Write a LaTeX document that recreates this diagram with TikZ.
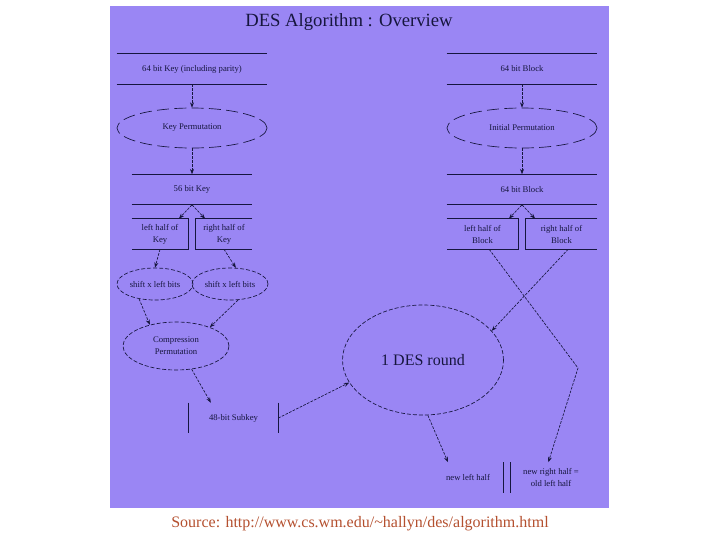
\documentclass[tikz,border=0pt]{standalone}
\usepackage{fontspec}
\setmainfont{Liberation Serif}
\usepackage{xcolor}
\usetikzlibrary{shapes.geometric,arrows.meta}
\definecolor{bgpurple}{HTML}{9A86F4}
\definecolor{ink}{HTML}{16163E}
\definecolor{srcred}{HTML}{B4502F}

\begin{document}
\begin{tikzpicture}[x=0.75pt,y=-0.75pt,>={Stealth[length=4pt,width=3pt]},
  every node/.style={font=\fontsize{6.5}{9}\selectfont,text=ink,align=center},
  rec/.style={inner sep=0pt,minimum width=112.5pt,minimum height=22.5pt},
  half/.style={inner sep=0pt,minimum width=#1,minimum height=22.5pt},
  perm/.style={ellipse,draw=ink,line width=0.5pt,inner sep=0pt,dash pattern=on 3pt off 1.5pt},
  flow/.style={->,draw=ink,line width=0.5pt,dash pattern=on 2pt off 1pt}]
  \useasboundingbox (0,0) rectangle (720,540);
  \fill[bgpurple] (110,6) rectangle (609,508);
  \node[font=\fontsize{14}{16}\selectfont] (title) at (349,22) {DES Algorithm : Overview};

  \node[rec] (key64) at (192,69) {64 bit Key (including parity)};
  \node[perm,minimum width=112.5pt,minimum height=30pt,dash pattern=on 9pt off 4pt] (keyperm) at (192,128) {Key Permutation};
  \node[rec,minimum width=90pt] (key56) at (192,189.5) {56 bit Key};
  \node[half=42pt] (lkey) at (160,234) {left half of\\Key};
  \node[half=42pt] (rkey) at (224,234) {right half of\\Key};
  \node[perm,minimum width=57pt,minimum height=24pt] (lshift) at (155,284) {shift x left bits};
  \node[perm,minimum width=57pt,minimum height=24pt] (rshift) at (230,284) {shift x left bits};
  \node[perm,minimum width=79.5pt,minimum height=36pt] (comp) at (176,346) {Compression\\Permutation};
  \node[half=66.75pt] (subkey) at (233.5,418) {48-bit Subkey};

  \node[rec] (block64) at (522,69) {64 bit Block};
  \node[perm,minimum width=112.5pt,minimum height=30pt,dash pattern=on 9pt off 4pt] (initperm) at (522,128) {Initial Permutation};
  \node[rec] (block64b) at (522,189.5) {64 bit Block};
  \node[half=53.25pt] (lblock) at (482.5,234) {left half of\\Block};
  \node[half=53.25pt] (rblock) at (561.5,234) {right half of\\Block};

  \node[perm,minimum width=120.75pt,minimum height=82.5pt,font=\fontsize{12}{14}\selectfont] (round) at (423,360) {1 DES round};
  \node[half=52.5pt] (newl) at (468,477.5) {new left half};
  \node[half=60pt] (newr) at (551,477.5) {new right half =\\old left half};

  \node[text=srcred,font=\fontsize{12}{14}\selectfont] (source) at (360,524) {Source: http://www.cs.wm.edu/\textasciitilde hallyn/des/algorithm.html};

  \begin{scope}[draw=ink,line width=0.6pt]
    \foreach \n in {key64,key56,block64,block64b}{
      \draw (\n.north west) -- (\n.north east) (\n.south west) -- (\n.south east);
    }
    \foreach \n in {lkey,lblock}{
      \draw (\n.north west) -- (\n.north east) -- (\n.south east) -- (\n.south west);
    }
    \foreach \n in {rkey,rblock}{
      \draw (\n.north east) -- (\n.north west) -- (\n.south west) -- (\n.south east);
    }
    \draw (subkey.north west) -- (subkey.south west) (subkey.north east) -- (subkey.south east);
    \draw (newl.north east) -- (newl.south east) (newr.north west) -- (newr.south west);
  \end{scope}

  \coordinate (bend) at (578,368);
  \draw[flow] (key64.south) -- (keyperm.north);
  \draw[flow] (keyperm.south) -- (key56.north);
  \draw[flow] (key56.south) -- ([xshift=-7pt]lkey.north east);
  \draw[flow] (key56.south) -- ([xshift=7pt]rkey.north west);
  \draw[flow] (lkey.south) -- (lshift.north);
  \draw[flow] (rkey.south) -- (rshift.70);
  \draw[flow] (lshift.223) -- (comp.141);
  \draw[flow] (rshift.297) -- (comp.29);
  \draw[flow] (comp.304) -- ([xshift=-17pt]subkey.north);
  \draw[flow] (subkey.east) -- (round.197);
  \draw[flow] (block64.south) -- (initperm.north);
  \draw[flow] (initperm.south) -- (block64b.north);
  \draw[flow] (block64b.south) -- ([xshift=-7pt]lblock.north east);
  \draw[flow] (block64b.south) -- ([xshift=7pt]rblock.north west);
  \draw[flow] ([xshift=5pt]rblock.south) -- (round.23);
  \draw[flow] ([xshift=5pt]lblock.south) -- (bend) -- ([xshift=-2pt]newr.north);
  \draw[flow] (round.275) -- ([xshift=-15pt]newl.north);
\end{tikzpicture}
\end{document}
